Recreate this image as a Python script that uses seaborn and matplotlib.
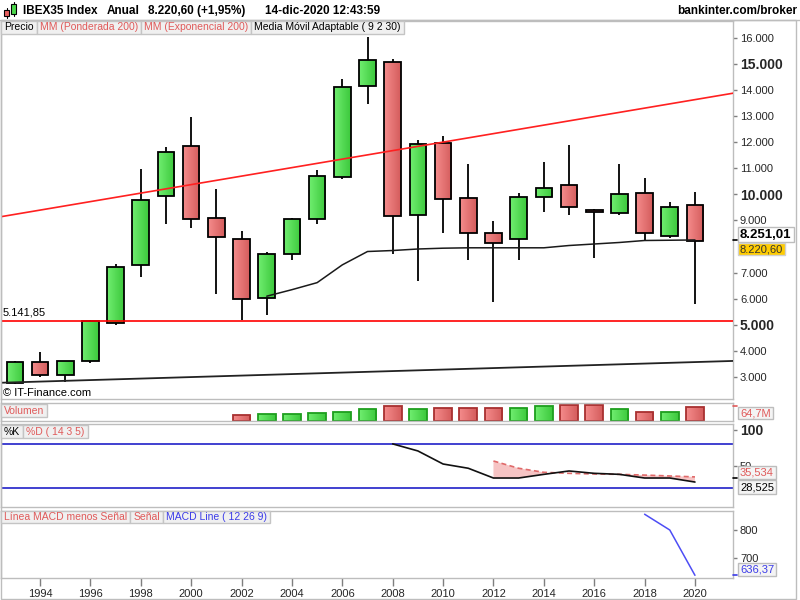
import numpy as np
import pandas as pd
import matplotlib
matplotlib.use("Agg")
import matplotlib.pyplot as plt
import seaborn as sns
from matplotlib.patches import Rectangle
from matplotlib.lines import Line2D
from matplotlib.colors import LinearSegmentedColormap
from matplotlib.ticker import FixedLocator, FuncFormatter

# ---------------- data ----------------
years = list(range(1993, 2021))
opens = [2781, 3565, 3065, 3603, 5065, 7296, 9950, 11834, 9104, 8296,
         6027, 7719, 9065, 10681, 14142, 15065, 9219, 11950, 9873, 8527,
         8296, 9911, 10373, 9411, 9296, 10065, 8412, 9604]
highs = [3615, 3962, 3615, 5192, 7346, 10962, 11808, 12962, 10192, 8577,
         7808, 9104, 10923, 14423, 16027, 15165, 12065, 12231, 11154, 8962,
         10038, 11231, 11885, 9423, 11154, 10615, 9692, 10077]
lows = [2730, 2988, 2796, 3550, 4988, 6820, 8858, 8692, 6192, 5192,
        5385, 7500, 8846, 10590, 13473, 7704, 6666, 8511, 7473, 5858,
        7473, 9321, 9204, 7550, 9204, 8231, 8335, 5796]
closes = [3565, 3065, 3603, 5154, 7219, 9796, 11603, 9065, 8373, 5988,
          7719, 9065, 10719, 14104, 15141, 9181, 11911, 9835, 8527, 8142,
          9911, 10258, 9527, 9335, 10027, 8527, 9527, 8220.60]

ama_years = list(range(2003, 2021))
ama_vals = [6096, 6346, 6615, 7296, 7808, 7846, 7904, 7935, 7950, 7950,
            7950, 7950, 8038, 8096, 8154, 8230, 8240, 8251.01]

red_trend_years = [1992.45, 2021.51]
red_trend_vals = [9142, 13873]
black_trend_years = [1992.45, 2021.51]
black_trend_vals = [2780, 3615]
support_level = 5141.85

vol_years = list(range(2002, 2021))
vol_vals = [28.5, 33, 33, 37.5, 42, 54, 69, 54, 59, 59, 59, 59, 69, 74, 74,
            54, 41, 41, 64.7]

k_years = list(range(2008, 2021))
k_vals = [80.5, 70.9, 53.1, 47.3, 34, 34, 39, 43.6, 40.4, 39, 34, 34, 28.525]
d_years = list(range(2012, 2021))
d_vals = [57.2, 47.3, 41.8, 40.4, 39.5, 39, 38, 36.8, 35.534]

macd_years = [2018, 2019, 2020]
macd_vals = [857, 800, 636.37]

# 8.000 is hidden behind the last-value boxes in the reference
price_ticks = [3000, 4000, 5000, 6000, 7000, 9000, 10000, 11000, 12000,
               13000, 14000, 15000, 16000]
bold_price_ticks = [5000, 10000, 15000]
year_ticks = list(range(1994, 2021, 2))

# ---------------- style ----------------
sns.set_style("white")
plt.rcParams['font.family'] = ['Liberation Sans', 'DejaVu Sans']

W, H = 800, 600
XMIN, XMAX = 1992.45, 2021.51
FRAME = '#BDBDBD'
TICKC = '#7F7F7F'
RED_TXT = '#E05A5A'
BLUE_TXT = '#3B3BE8'
GREEN_L, GREEN_R = '#70EE70', '#3CC83C'
RED_L, RED_R = '#F58C8C', '#D45C5C'

fig = plt.figure(figsize=(8, 6), dpi=100)
fig.patch.set_facecolor('white')


def fx(x):
    return x / W


def fy(y):
    return 1 - y / H


def make_ax(top, bot, left=1, right=733):
    ax = fig.add_axes([fx(left), fy(bot), (right - left) / W, (bot - top) / H])
    for s in ax.spines.values():
        s.set_color(FRAME)
        s.set_linewidth(1)
    ax.set_facecolor('white')
    ax.yaxis.tick_right()
    ax.tick_params(axis='y', direction='out', length=3, color=TICKC, width=1,
                   labelsize=8, pad=2, right=True, left=False,
                   labelright=True, labelleft=False)
    ax.tick_params(axis='x', bottom=False, labelbottom=False)
    return ax


def gradient_bars(ax, xs, heights, bottoms, width, up, edge_up, edge_dn, z):
    cols = [GREEN_L if u else RED_L for u in up]
    bars = ax.bar(xs, heights, bottom=bottoms, width=width, color=cols,
                  edgecolor='none', linewidth=0, zorder=z)
    grad = np.linspace(0, 1, 64).reshape(1, -1)
    for b, u in zip(bars, up):
        x0, y0 = b.get_x(), b.get_y()
        w, h = b.get_width(), b.get_height()
        cmap = LinearSegmentedColormap.from_list(
            'g', [GREEN_L, GREEN_R] if u else [RED_L, RED_R])
        im = ax.imshow(grad, extent=[x0, x0 + w, y0, y0 + h], cmap=cmap,
                       aspect='auto', origin='lower', zorder=z + 0.1,
                       interpolation='bilinear')
        im.set_clip_path(b)
    ecols = [edge_up if u else edge_dn for u in up]
    ax.bar(xs, heights, bottom=bottoms, width=width, fill=False,
           edgecolor=ecols, linewidth=1.3, zorder=z + 0.2)


# ---------------- price panel ----------------
axp = make_ax(20.5, 399)
yrs = np.array(years, dtype=float)
o = np.array(opens, dtype=float)
c = np.array(closes, dtype=float)
up = c >= o
axp.vlines(yrs, lows, highs, color='black', lw=1.3, zorder=2)
gradient_bars(axp, yrs, np.abs(c - o), np.minimum(o, c), 0.66, up,
              'black', 'black', 3)

sns.lineplot(x=red_trend_years, y=red_trend_vals, ax=axp, color='#FF2020',
             lw=1.2, zorder=4)
sns.lineplot(x=black_trend_years, y=black_trend_vals, ax=axp, color='#222222',
             lw=1.3, zorder=4)
axp.axhline(support_level, color='#FF0000', lw=1.2, zorder=4)
sns.lineplot(x=ama_years, y=ama_vals, ax=axp, color='#1A1A1A', lw=1.1,
             zorder=5)
axp.text(XMIN + 0.05, support_level + 120, '5.141,85', fontsize=8,
         color='black', va='bottom', ha='left', zorder=6)

axp.set_xlim(XMIN, XMAX)
axp.set_ylim(2157, 16659)
axp.yaxis.set_major_locator(FixedLocator(price_ticks))
axp.yaxis.set_major_formatter(FuncFormatter(lambda v, p: f"{int(round(v)):,}".replace(',', '.')))
axp.set_xlabel('')
axp.set_ylabel('')

# ---------------- volume panel ----------------
axv = make_ax(403.3, 421.3)
vup = [up[years.index(y)] for y in vol_years]
gradient_bars(axv, np.array(vol_years, float), vol_vals, [0] * len(vol_vals),
              0.7, vup, '#1E9E1E', '#A83030', 2)
axv.set_xlim(XMIN, XMAX)
axv.set_ylim(0, 81.4)
axv.set_yticks([])

# ---------------- stochastic panel ----------------
axs = make_ax(424.3, 507.3)
axs.axhline(80, color='#2020C8', lw=1.2, zorder=2)
axs.axhline(20, color='#2020C8', lw=1.2, zorder=2)
k_sub = np.array([k_vals[k_years.index(y)] for y in d_years])
axs.fill_between(d_years, k_sub, d_vals, where=np.array(d_vals) >= k_sub,
                 color='#F6C4C4', lw=0, zorder=1)
sns.lineplot(x=d_years, y=d_vals, ax=axs, color='#E06A6A', lw=1.2,
             linestyle=(0, (3, 2)), zorder=3)
sns.lineplot(x=k_years, y=k_vals, ax=axs, color='#111111', lw=1.2, zorder=4)
axs.set_xlim(XMIN, XMAX)
axs.set_ylim(-5.9, 107.2)
axs.yaxis.set_major_locator(FixedLocator([50, 100]))
axs.yaxis.set_major_formatter(FuncFormatter(lambda v, p: f"{int(round(v))}"))
axs.set_xlabel('')
axs.set_ylabel('')

# ---------------- MACD panel ----------------
axm = make_ax(511, 577.7)
sns.lineplot(x=macd_years, y=macd_vals, ax=axm, color='#4D4DF5', lw=1.1,
             zorder=3)
axm.set_xlim(XMIN, XMAX)
axm.set_ylim(627.8, 868.6)
axm.yaxis.set_major_locator(FixedLocator([700, 800]))
axm.yaxis.set_major_formatter(FuncFormatter(lambda v, p: f"{int(round(v))}"))
axm.set_xticks(year_ticks)
axm.set_xticklabels([str(y) for y in year_ticks])
axm.tick_params(axis='x', bottom=True, labelbottom=True, direction='out',
                length=6, color=TICKC, width=1, labelsize=8, pad=2)
axm.set_xlabel('')
axm.set_ylabel('')

# bold emphasised tick labels (after ticks are resolved)
fig.canvas.draw()
for t in axp.yaxis.get_major_ticks():
    if int(round(t.get_loc())) in bold_price_ticks:
        t.label2.set_fontweight('bold')
        t.label2.set_fontsize(10)
for t in axs.yaxis.get_major_ticks():
    if int(round(t.get_loc())) == 100:
        t.label2.set_fontweight('bold')
        t.label2.set_fontsize(10)

# ---------------- figure decorations ----------------
renderer = fig.canvas.get_renderer()


def boxed_row(x0, top, bot, items, fontsize=7.5, face='#F0F0F0',
              edge='#C4C4C4', pad=3):
    x = x0
    for txt, col in items:
        t = fig.text(fx(x + pad), fy((top + bot) / 2), txt, fontsize=fontsize,
                     color=col, va='center', ha='left', zorder=11)
        w = t.get_window_extent(renderer).width
        fig.patches.append(Rectangle((fx(x), fy(bot)), (w + 2 * pad) / W,
                                     (bot - top) / H, transform=fig.transFigure,
                                     facecolor=face, edgecolor=edge, lw=1,
                                     zorder=10))
        x += w + 2 * pad


def value_box(x, top, bot, txt, col, face='#F4F4F4', edge='#BDBDBD',
              fontsize=8, weight='normal', pad=2):
    t = fig.text(fx(x + pad), fy((top + bot) / 2 + 0.5), txt, fontsize=fontsize,
                 color=col, fontweight=weight, va='center', ha='left', zorder=11)
    ext = t.get_window_extent(renderer)
    fig.patches.append(Rectangle((fx(x), fy(bot)), (ext.width + 2 * pad) / W,
                                 (bot - top) / H, transform=fig.transFigure,
                                 facecolor=face, edgecolor=edge, lw=1, zorder=10))


def tick_mark(y, col):
    fig.lines.append(Line2D([fx(733), fx(737)], [fy(y), fy(y)],
                            transform=fig.transFigure, color=col, lw=1.2,
                            zorder=12))


# header
fig.lines.append(Line2D([0, 1], [fy(20), fy(20)], transform=fig.transFigure,
                        color=FRAME, lw=1))
fig.patches.append(Rectangle((fx(0.5), fy(599)), 795 / W, 579 / H,
                             transform=fig.transFigure, fill=False,
                             edgecolor=FRAME, lw=1, zorder=1))
# icon
fig.lines.append(Line2D([fx(6.5), fx(6.5)], [fy(8), fy(18)], transform=fig.transFigure,
                        color='black', lw=0.8, zorder=12))
fig.patches.append(Rectangle((fx(4), fy(16)), 5 / W, 6 / H, transform=fig.transFigure,
                             facecolor='#E86060', edgecolor='black', lw=0.8, zorder=13))
fig.lines.append(Line2D([fx(13.5), fx(13.5)], [fy(2), fy(16)], transform=fig.transFigure,
                        color='black', lw=0.8, zorder=12))
fig.patches.append(Rectangle((fx(11), fy(14)), 5 / W, 10 / H, transform=fig.transFigure,
                             facecolor='#4CD84C', edgecolor='black', lw=0.8, zorder=13))

title_parts = [(23, 'IBEX35 Index'), (107, 'Anual'), (148, '8.220,60 (+1,95%)'),
               (265, '14-dic-2020 12:43:59')]
for xp, s in title_parts:
    fig.text(fx(xp), fy(11), s, fontsize=8.5, fontweight='bold', color='black',
             va='center', ha='left')
fig.text(fx(797), fy(11), 'bankinter.com/broker', fontsize=8.5,
         fontweight='bold', color='black', va='center', ha='right')

# legends
boxed_row(1, 20.5, 33.5, [('Precio', 'black'), ('MM (Ponderada 200)', RED_TXT),
                          ('MM (Exponencial 200)', RED_TXT),
                          ('Media Móvil Adaptable ( 9 2 30)', 'black')])
boxed_row(1, 404.3, 417.3, [('Volumen', RED_TXT)])
boxed_row(1, 425, 438.3, [('%K', 'black'), ('%D ( 14 3 5)', RED_TXT)])
boxed_row(1, 511, 523, [('Línea MACD menos Señal', RED_TXT), ('Señal', RED_TXT),
                        ('MACD Line ( 12 26 9)', BLUE_TXT)])

fig.text(fx(3), fy(393), '© IT-Finance.com', fontsize=8, color='black',
         va='center', ha='left')

# right value boxes
tick_mark(240, 'black')
value_box(738, 226.7, 242.3, '8.251,01', 'black', face='white', fontsize=9.5,
          weight='bold')
value_box(738, 243, 255.3, '8.220,60', '#333333', face='#FFCC00', edge='#D0D0D0')
tick_mark(406, RED_TXT)
value_box(738, 406.7, 419.3, '64,7M', RED_TXT)
tick_mark(478, 'black')
value_box(738, 466, 478.5, '35,534', RED_TXT)
value_box(738, 480, 494.3, '28,525', 'black')
tick_mark(575, BLUE_TXT)
value_box(738, 563.3, 575.7, '636,37', BLUE_TXT)

fig.savefig('out.png', dpi=100, facecolor='white')
